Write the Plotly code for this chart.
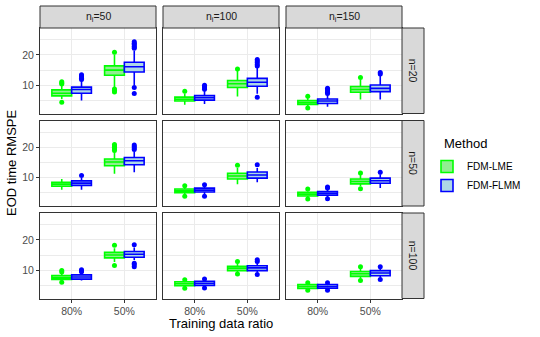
import plotly.graph_objects as go

# facets
ni_labels = ["n<sub>i</sub>=50", "n<sub>i</sub>=100", "n<sub>i</sub>=150"]
n_labels = ["n=20", "n=50", "n=100"]
ratios = ["80%", "50%"]

# box stats per panel (row n=20,50,100 x col ni=50,100,150), each [80%, 50%]
lme_q1 = [[6.5, 13.3], [4.8, 9.3], [3.7, 7.7],
          [7.2, 14.0], [5.1, 9.6], [4.0, 8.0],
          [7.0, 14.1], [4.9, 9.9], [4.0, 8.0]]
lme_med = [[7.4, 15.0], [5.4, 10.5], [4.35, 8.6],
           [7.85, 15.2], [5.7, 10.6], [4.6, 8.8],
           [7.6, 15.05], [5.55, 10.7], [4.65, 8.85]]
lme_q3 = [[8.5, 16.4], [6.1, 11.6], [5.0, 9.6],
          [8.5, 16.2], [6.3, 11.5], [5.2, 9.6],
          [8.3, 15.9], [6.2, 11.3], [5.3, 9.6]]
lme_lo = [[5.5, 9.4], [3.6, 6.3], [3.2, 5.3],
          [6.1, 11.3], [4.4, 7.9], [3.5, 7.2],
          [6.8, 12.7], [4.5, 9.3], [3.7, 7.3]]
lme_hi = [[10.0, 20.2], [7.3, 14.8], [6.0, 11.9],
          [9.6, 18.7], [6.9, 13.2], [5.6, 11.0],
          [8.9, 17.3], [6.5, 12.3], [5.6, 10.5]]
lme_out = [[[10.4, 10.8, 11.2, 4.4], [20.9, 8.8, 8.3, 7.8]],
           [[8.0], [15.4]],
           [[6.4, 2.5], [12.6]],
           [[], [19.0, 19.5, 20.0, 20.5, 21.0]],
           [[7.4, 3.9], [14.1]],
           [[6.3, 3.0], [11.55, 6.4]],
           [[9.4, 9.9, 6.1], [18.3, 11.55]],
           [[6.9, 4.1], [12.9, 8.8]],
           [[5.9, 3.4], [11.2, 6.6]]]

flmm_q1 = [[7.4, 14.4], [5.1, 9.7], [4.0, 7.9],
           [7.5, 14.3], [5.3, 9.9], [4.3, 8.2],
           [7.1, 14.3], [5.0, 9.9], [4.1, 8.2]]
flmm_med = [[8.6, 16.1], [5.9, 11.0], [4.8, 9.0],
            [8.25, 15.6], [5.95, 10.9], [4.9, 9.05],
            [7.8, 15.3], [5.7, 10.8], [4.65, 9.1]]
flmm_q3 = [[9.4, 17.6], [6.6, 12.3], [5.5, 10.1],
           [9.0, 16.7], [6.6, 11.9], [5.5, 9.9],
           [8.5, 16.2], [6.4, 11.5], [5.3, 9.9]]
flmm_lo = [[5.0, 9.9], [3.8, 7.2], [2.9, 5.3],
           [6.1, 11.8], [4.6, 8.5], [3.6, 6.6],
           [6.6, 13.4], [4.6, 9.3], [3.7, 7.6]]
flmm_hi = [[11.5, 21.4], [8.3, 15.9], [6.9, 13.2],
           [9.9, 18.7], [7.1, 13.2], [6.2, 11.2],
           [9.0, 17.5], [6.7, 12.4], [5.6, 10.6]]
flmm_out = [[[11.9, 12.3, 12.7, 13.1, 13.5], [22.2, 22.6, 23.0, 23.5, 23.9, 24.4, 9.3, 7.3]],
            [[8.7, 9.1, 9.5, 10.0], [16.4, 16.9, 17.5, 18.0, 18.5, 6.1]],
            [[7.3, 7.7, 8.1, 8.6, 9.0], [13.7, 14.2]],
            [[10.8], [19.3, 19.8, 20.3, 20.8]],
            [[7.7, 3.9], [14.3]],
            [[6.6, 7.0, 3.1], [11.8]],
            [[9.5, 9.8, 10.2], [18.4, 12.3, 11.8, 11.2]],
            [[7.1, 4.2], [12.9, 13.5, 8.6]],
            [[5.9, 3.4], [11.2, 7.0]]]

methods = [
    ("FDM-LME", "#00FF00", "#90EE90", lme_q1, lme_med, lme_q3, lme_lo, lme_hi, lme_out, -0.1875),
    ("FDM-FLMM", "#0000FF", "#ADD8E6", flmm_q1, flmm_med, flmm_q3, flmm_lo, flmm_hi, flmm_out, 0.1875),
]

W, H = 540, 337
col_px = [(40, 156), (163, 279), (286, 402)]
row_px = [(28, 113.5), (120.5, 206), (213, 298.5)]
FONT = "Liberation Sans, Arial, sans-serif"

fig = go.Figure()
layout = {}
shapes = []
annotations = []

for r in range(3):
    for c in range(3):
        k = r * 3 + c
        ax = "" if k == 0 else str(k + 1)
        for name, line_c, fill_c, q1, med, q3, lo, hi, out, off in methods:
            xs = [i + 1 + off for i in range(len(ratios))]
            fig.add_trace(go.Box(
                x=xs, q1=q1[k], median=med[k], q3=q3[k],
                lowerfence=lo[k], upperfence=hi[k],
                width=0.375, whiskerwidth=0, boxpoints=False,
                line=dict(color=line_c, width=1.6), fillcolor=fill_c,
                name=name, legendgroup=name, showlegend=(k == 0),
                xaxis="x" + ax, yaxis="y" + ax, hoverinfo="skip"))
            ox, oy = [], []
            for i in range(len(ratios)):
                ox += [xs[i]] * len(out[k][i])
                oy += out[k][i]
            fig.add_trace(go.Scatter(
                x=ox, y=oy, mode="markers",
                marker=dict(color=line_c, size=5),
                showlegend=False, legendgroup=name,
                xaxis="x" + ax, yaxis="y" + ax, hoverinfo="skip"))

        x0, x1 = col_px[c]
        y0, y1 = row_px[r]
        layout["xaxis" + ax] = dict(
            domain=[x0 / W, x1 / W], anchor="y" + ax, range=[0.4, 2.6],
            automargin=False,
            tickvals=[1, 2], ticktext=ratios, showticklabels=(r == 2),
            ticks="outside" if r == 2 else "", ticklen=3, tickcolor="#333333",
            tickfont=dict(family=FONT, size=10.5, color="#4D4D4D"),
            showgrid=True, gridcolor="#EBEBEB", gridwidth=1.1, zeroline=False,
            showline=True, mirror=True, linecolor="#333333", linewidth=1)
        layout["yaxis" + ax] = dict(
            domain=[1 - y1 / H, 1 - y0 / H], anchor="x" + ax, range=[0.7, 28.9],
            automargin=False,
            tickvals=[10, 20], showticklabels=(c == 0),
            ticks="outside" if c == 0 else "", ticklen=3, tickcolor="#333333",
            tickfont=dict(family=FONT, size=10.5, color="#4D4D4D"),
            showgrid=True, gridcolor="#EBEBEB", gridwidth=1.1, zeroline=False,
            minor=dict(tickvals=[5, 15, 25], showgrid=True, gridcolor="#EBEBEB", gridwidth=0.6),
            showline=True, mirror=True, linecolor="#333333", linewidth=1)

# strips
for c in range(3):
    x0, x1 = col_px[c]
    shapes.append(dict(type="rect", xref="paper", yref="paper",
                       x0=x0 / W, x1=x1 / W, y0=1 - 28 / H, y1=1 - 6 / H,
                       fillcolor="#D9D9D9", line=dict(color="#333333", width=1)))
    annotations.append(dict(text=ni_labels[c], xref="paper", yref="paper",
                            x=(x0 + x1) / 2 / W, y=1 - 17 / H, showarrow=False,
                            xanchor="center", yanchor="middle",
                            font=dict(family=FONT, size=10.5, color="#1A1A1A")))
for r in range(3):
    y0, y1 = row_px[r]
    shapes.append(dict(type="rect", xref="paper", yref="paper",
                       x0=402 / W, x1=424 / W, y0=1 - y1 / H, y1=1 - y0 / H,
                       fillcolor="#D9D9D9", line=dict(color="#333333", width=1)))
    annotations.append(dict(text=n_labels[r], xref="paper", yref="paper",
                            x=413 / W, y=1 - (y0 + y1) / 2 / H, showarrow=False,
                            xanchor="center", yanchor="middle", textangle=90,
                            font=dict(family=FONT, size=10.5, color="#1A1A1A")))

annotations.append(dict(text="Training data ratio", xref="paper", yref="paper",
                        x=221 / W, y=1 - 323 / H, showarrow=False,
                        xanchor="center", yanchor="middle",
                        font=dict(family=FONT, size=13, color="black")))
annotations.append(dict(text="EOD time RMSPE", xref="paper", yref="paper",
                        x=12 / W, y=1 - 163 / H, showarrow=False, textangle=-90,
                        xanchor="center", yanchor="middle",
                        font=dict(family=FONT, size=13, color="black")))
# legend title
annotations.append(dict(text="Method", xref="paper", yref="paper",
                        x=442 / W, y=1 - 143 / H, showarrow=False,
                        xanchor="left", yanchor="middle",
                        font=dict(family=FONT, size=13, color="black")))

fig.update_layout(
    **layout,
    width=W, height=H,
    margin=dict(l=0, r=0, t=0, b=0),
    paper_bgcolor="white", plot_bgcolor="white",
    shapes=shapes, annotations=annotations,
    legend=dict(x=427 / W, y=1 - 152 / H, xanchor="left", yanchor="top",
                font=dict(family=FONT, size=10, color="black"),
                itemwidth=30,
                bgcolor="rgba(0,0,0,0)", tracegroupgap=0),
)

# page body has a default 8px margin; drop it so the figure sits at the corner
fig.write_html("out.html", config={"displayModeBar": False},
               post_script="document.body.style.margin='0';")
